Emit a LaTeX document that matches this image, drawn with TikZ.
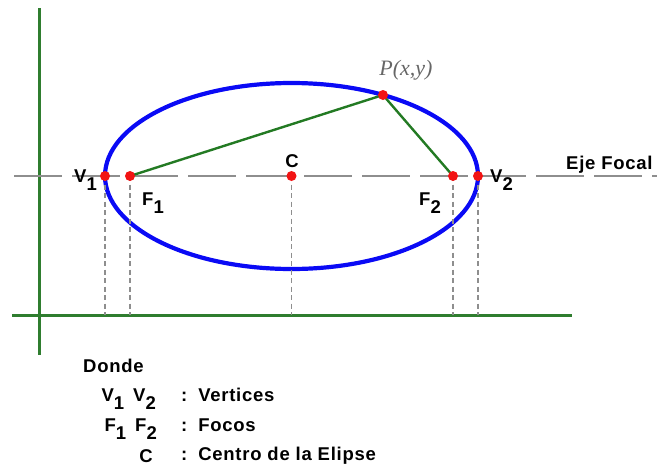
\documentclass[tikz,border=0pt]{standalone}
\usepackage{fontspec}
\setmainfont[LetterSpace=4]{Liberation Sans}
\newfontfamily\pserif{Liberation Serif}
\usetikzlibrary{positioning}
\definecolor{ejeGray}{HTML}{8E8E8E}
\definecolor{axisGreen}{HTML}{2F7D2F}
\definecolor{segGreen}{HTML}{237A23}
\definecolor{ellBlue}{HTML}{0A0AF5}
\definecolor{ptRed}{HTML}{F21414}
\colorlet{pGray}{black!60}
\newcommand{\idx}[2]{#1\raisebox{-0.45em}{#2}}

\begin{document}
\begin{tikzpicture}[x=1pt, y=-1pt, font=\bfseries\fontsize{18.5}{22}\selectfont,
    pt/.style={circle, fill=ptRed, inner sep=0pt, minimum size=10pt},
    guide/.style={ejeGray, line width=1.4pt, dash pattern=on 5pt off 3.5pt},
    axis/.style={axisGreen, line width=3pt},
    seg/.style={segGreen, line width=2.4pt},
    lbl/.style={inner sep=0pt}]
  \useasboundingbox (0,0) rectangle (657,469);
  % ejes
  \draw[axis] (39,8) -- (39,355);
  \draw[axis] (12,315) coordinate (xl) -- (572,315);
  % eje focal
  \draw[ejeGray, line width=1.5pt, dash pattern=on 48pt off 10pt] (14,176) -- (657,176);
  \coordinate (c0) at (291.5,176);
  \draw[ellBlue, line width=4.2pt] (c0) ellipse [x radius=186.5pt, y radius=93pt];
  % puntos
  \foreach \nm/\px in {V1/105, F1/130, C/291.5, F2/453, V2/478}{
    \draw[guide] (\px,176) -- (\px,315) coordinate (b\nm);}
  \draw[seg] (130,176) -- (383,95) -- (453,176);
  \node[pt] (V1) at (105,176) {};
  \node[pt] (F1) at (130,176) {};
  \node[pt] (C) at (291.5,176) {};
  \node[pt] (F2) at (453,176) {};
  \node[pt] (V2) at (478,176) {};
  \node[pt] (P) at (383,95) {};
  % etiquetas
  \node[lbl, anchor=east] (lV1) at (97,180) {\idx{V}{1}};
  \node[lbl] (lF1) at (153,203) {\idx{F}{1}};
  \node[lbl] (lC) at (292,161) {C};
  \node[lbl] (lF2) at (430,203) {\idx{F}{2}};
  \node[lbl, anchor=west] (lV2) at (490,180) {\idx{V}{2}};
  \node[lbl, pGray, font=\pserif\itshape\fontsize{22}{26}\selectfont] (lP) at (406,70) {P(x,y)};
  \node[lbl, anchor=west] (lEje) at (566,165) {Eje Focal};
  % leyenda
  \node[lbl, anchor=west] (dnd) at (83,366) {Donde};
  \node[lbl, anchor=east] (nV) at (156,399) {\idx{V}{1}\, \idx{V}{2}};
  \node[lbl, anchor=east] (nF) at (157,429) {\idx{F}{1}\, \idx{F}{2}};
  \node[lbl, anchor=east] (nC) at (153,456) {C};
  \node[lbl, anchor=west] (dV) at (181,395) {:\, Vertices};
  \node[lbl, anchor=west] (dF) at (181,425) {:\, Focos};
  \node[lbl, anchor=west] (dC) at (181,456) {:\, Centro de la Elipse};
\end{tikzpicture}
\end{document}
